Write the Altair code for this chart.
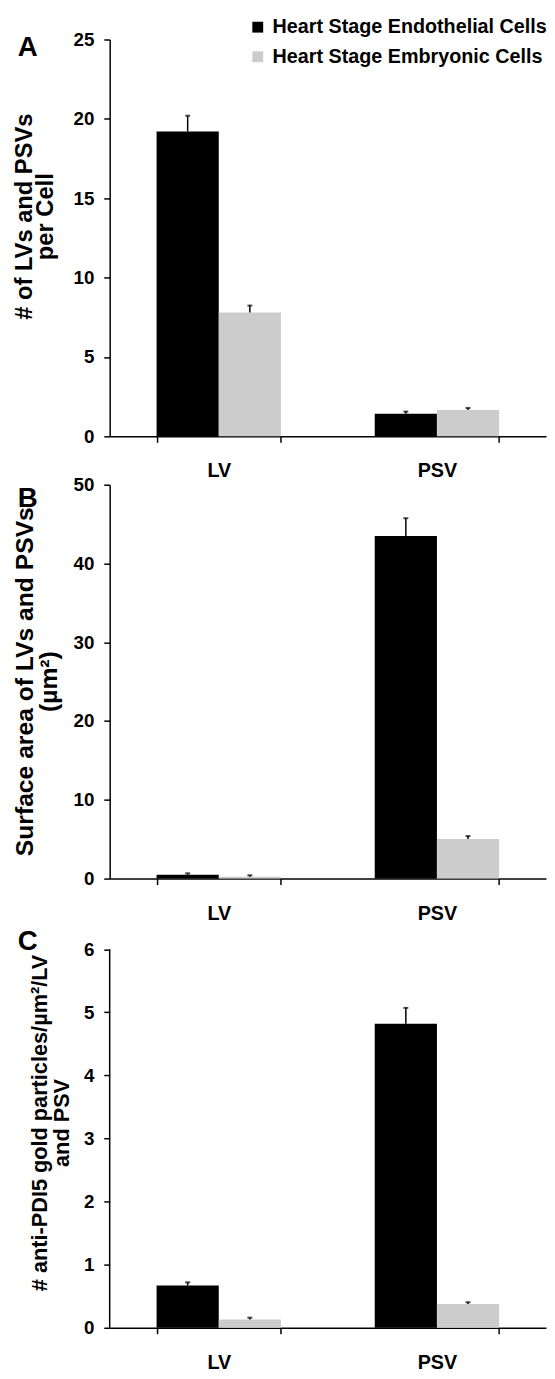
import altair as alt
import pandas as pd

categories = ["LV", "PSV"]
groups = ["Heart Stage Endothelial Cells", "Heart Stage Embryonic Cells"]
colors = ["#000000", "#cccccc"]

# Panel A: # of LVs and PSVs per cell
a_endo = [19.2, 1.43]
a_endo_err = [1.0, 0.13]
a_embr = [7.8, 1.66]
a_embr_err = [0.44, 0.13]
a_ticks = [0, 5, 10, 15, 20, 25]

# Panel B: surface area (um^2)
b_endo = [0.5, 43.5]
b_endo_err = [0.17, 2.25]
b_embr = [0.25, 5.03]
b_embr_err = [0.17, 0.37]
b_ticks = [0, 5, 10, 15, 20, 25, 30, 35, 40, 45, 50]

# Panel C: anti-PDI5 gold particles
c_endo = [0.67, 4.82]
c_endo_err = [0.05, 0.25]
c_embr = [0.13, 0.375]
c_embr_err = [0.03, 0.03]
c_ticks = [0, 1, 2, 3, 4, 5, 6]

FONT = "Liberation Sans"
W = 442


def make_df(endo, endo_err, embr, embr_err):
    rows = []
    for i, c in enumerate(categories):
        rows.append({"category": c, "group": groups[0], "value": endo[i], "top": endo[i] + endo_err[i]})
        rows.append({"category": c, "group": groups[1], "value": embr[i], "top": embr[i] + embr_err[i]})
    return pd.DataFrame(rows)


def panel(df, ticks, dmax, height, title_lines, title_x, title_y, title_size, title_lh,
          letter, letter_y, show_legend, draw_axis_rule=False):
    xenc = alt.X("category:N", sort=categories,
                 scale=alt.Scale(paddingInner=0.43, paddingOuter=0.215),
                 axis=alt.Axis(title=None, labelAngle=0, labelFontSize=20,
                               labelFontWeight="bold", labelColor="black",
                               tickBand="extent", tickSize=6, tickWidth=1.5,
                               tickColor="black", labelPadding=19,
                               domainColor="black", domainWidth=1.5))
    xoff = alt.XOffset("group:N", sort=groups,
                       scale=alt.Scale(paddingInner=0, paddingOuter=0))
    yscale = alt.Scale(domain=[0, dmax], nice=False)
    yaxis = alt.Axis(values=ticks, format="d", labelOverlap=False,
                     title=title_lines, titleFontSize=title_size,
                     titleFontWeight="bold", titleColor="black",
                     titleX=title_x, titleY=title_y, titleBaseline="top",
                     titleLineHeight=title_lh,
                     labelFontSize=19, labelFontWeight="bold", labelColor="black",
                     tickSize=6, tickWidth=1.5, tickColor="black", labelPadding=10,
                     grid=False, domain=not draw_axis_rule,
                     domainColor="black", domainWidth=1.5)
    if show_legend:
        legend = alt.Legend(title=None, orient="none", legendX=140, legendY=-22.5,
                            symbolType="square", symbolSize=121, symbolStrokeWidth=0,
                            labelFontSize=20, labelFontWeight="bold", labelColor="black",
                            labelOffset=5, rowPadding=10, padding=0, labelLimit=400)
    else:
        legend = None

    base = alt.Chart(df).encode(x=xenc, xOffset=xoff)
    bars = base.mark_bar().encode(
        y=alt.Y("value:Q", scale=yscale, axis=yaxis),
        color=alt.Color("group:N", sort=groups,
                        scale=alt.Scale(domain=groups, range=colors), legend=legend),
    )
    err = base.mark_rule(color="black", strokeWidth=1.5).encode(
        y=alt.Y("value:Q"), y2="top:Q")
    caps = base.mark_tick(color="black", thickness=2, size=5).encode(y=alt.Y("top:Q"))
    lab = alt.Chart(pd.DataFrame({"t": [letter]})).mark_text(
        fontSize=28, fontWeight="bold", font=FONT, align="left", baseline="top",
        color="black").encode(text="t:N", x=alt.value(-93), y=alt.value(letter_y))
    layers = [bars, err, caps, lab]
    if draw_axis_rule:
        rule = alt.Chart(pd.DataFrame({"lo": [ticks[0]], "hi": [ticks[-1]]})).mark_rule(
            color="black", strokeWidth=1.5).encode(
            x=alt.value(0), y=alt.Y("lo:Q"), y2="hi:Q")
        layers.append(rule)
    return alt.layer(*layers).properties(width=W, height=height).resolve_scale(color="independent")


dfa = make_df(a_endo, a_endo_err, a_embr, a_embr_err)
dfb = make_df(b_endo, b_endo_err, b_embr, b_embr_err)
dfc = make_df(c_endo, c_endo_err, c_embr, c_embr_err)

pa = panel(dfa, a_ticks, 25, 402, ["# of LVs and PSVs", "per Cell"], -98, 179, 24, 21,
           "A", -5, True)
pb = panel(dfb, b_ticks, 50, 399, ["Surface area of LVs and PSVs", "(µm²)"], -98, 199, 25, 24,
           "B", 1, False)
c_h = 406
pc = panel(dfc, c_ticks, 6 * c_h / 383.5, c_h,
           ["# anti-PDI5 gold particles/µm²/LV", "and PSV"], -81, 198, 22, 22,
           "C", 1, False, draw_axis_rule=True)

chart = alt.vconcat(pa, pb, pc, spacing=49, bounds="flush").resolve_scale(
    color="independent").properties(
    padding={"left": 4, "top": 0, "right": 0, "bottom": 0}
).configure(font=FONT).configure_view(stroke=None)

chart.save("out.html", embed_options={"renderer": "svg", "actions": False})
